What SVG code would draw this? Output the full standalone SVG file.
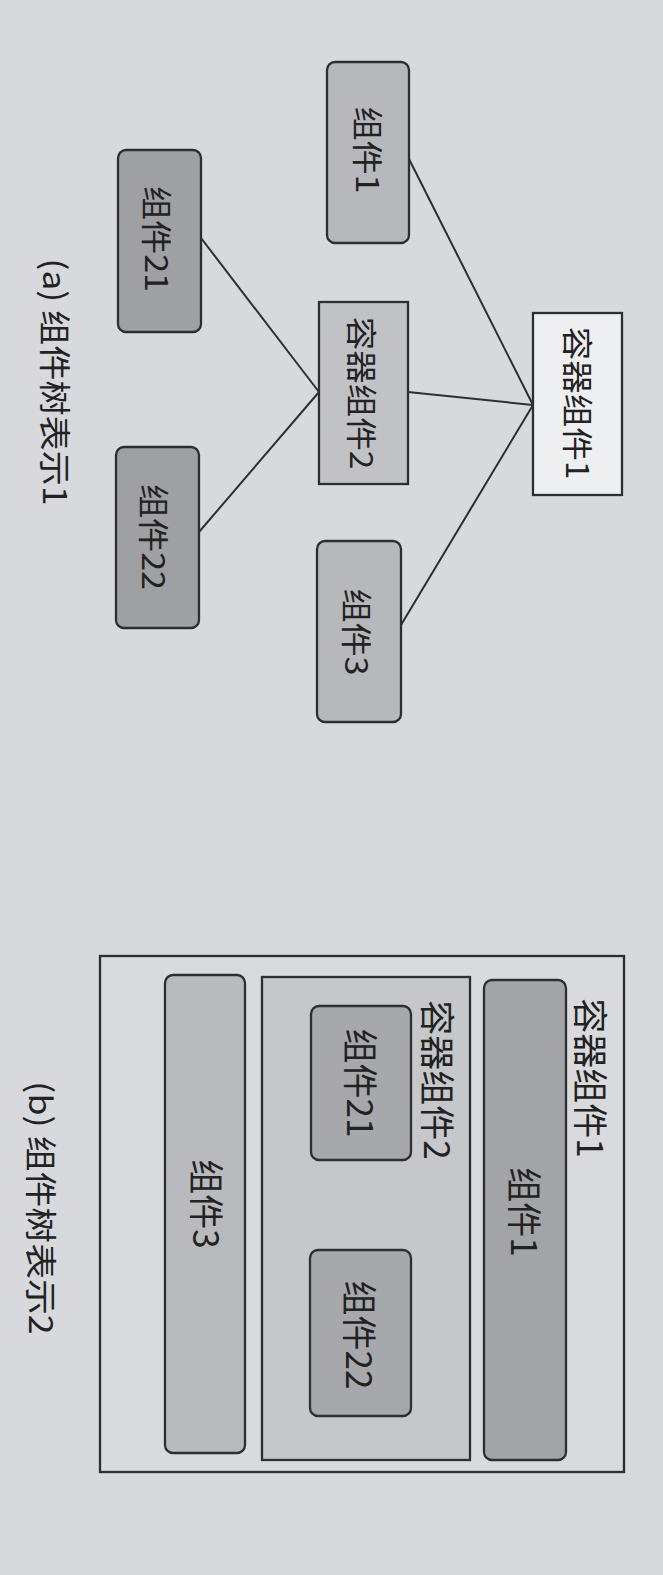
<svg xmlns="http://www.w3.org/2000/svg" width="663" height="1575" viewBox="0 0 663 1575">
<style>
.bx{stroke:#2e2e30;stroke-width:2.3}
.ln{stroke:#2e2e30;stroke-width:2;fill:none}
.t{font-family:"Noto Sans CJK SC","Noto Sans",sans-serif;fill:#222;text-anchor:middle;dominant-baseline:central}
.ta{font-size:31px}
.tb{font-size:35px}
.cap{font-size:32px}
</style>
<rect x="0" y="0" width="663" height="1575" fill="#d7d9dd"/>

<g id="connectors">
<line class="ln" x1="409" y1="159" x2="533" y2="405"/>
<line class="ln" x1="408" y1="392" x2="533" y2="405"/>
<line class="ln" x1="401" y1="625" x2="533" y2="405"/>
<line class="ln" x1="201" y1="238" x2="319" y2="392"/>
<line class="ln" x1="199" y1="532" x2="319" y2="392"/>
</g>

<g id="a-comp1">
<rect class="bx" x="327" y="62" width="82" height="181" rx="8" fill="#b7b8bc"/>
<text class="t ta" transform="translate(370,150) rotate(90) scale(1.1,1)">组件1</text>
</g>
<g id="a-container1">
<rect class="bx" x="533" y="313" width="89" height="182" fill="#eeeff1"/>
<text class="t ta" transform="translate(579,403) rotate(90) scale(1.08,1)">容器组件1</text>
</g>
<g id="a-container2">
<rect class="bx" x="319" y="302" width="89" height="182" fill="#c1c2c6"/>
<text class="t ta" transform="translate(363,393) rotate(90) scale(1.08,1)">容器组件2</text>
</g>
<g id="a-comp3">
<rect class="bx" x="317" y="541" width="84" height="181" rx="8" fill="#b7b8bc"/>
<text class="t ta" transform="translate(359,632) rotate(90) scale(1.1,1)">组件3</text>
</g>
<g id="a-comp21">
<rect class="bx" x="118" y="150" width="83" height="182" rx="8" fill="#9fa0a4"/>
<text class="t ta" transform="translate(159,239) rotate(90) scale(1.1,1)">组件21</text>
</g>
<g id="a-comp22">
<rect class="bx" x="116" y="447" width="83" height="181" rx="8" fill="#9fa0a4"/>
<text class="t ta" transform="translate(156,537) rotate(90) scale(1.1,1)">组件22</text>
</g>
<g id="caption-a">
<text class="t cap" transform="translate(57,382) rotate(90) scale(1.1,1)">(a) 组件树表示1</text>
</g>

<g id="b-container1">
<rect class="bx" x="100" y="956" width="524" height="516" fill="#d9dade"/>
<text class="t tb" transform="translate(592,1078) rotate(90)">容器组件1</text>
</g>
<g id="b-comp1">
<rect class="bx" x="484" y="980" width="82" height="480" rx="8" fill="#a3a4a8"/>
<text class="t tb" transform="translate(526,1212) rotate(90)">组件1</text>
</g>
<g id="b-container2">
<rect class="bx" x="262" y="977" width="208" height="483" fill="#c6c7cb"/>
<text class="t tb" transform="translate(439,1080) rotate(90)">容器组件2</text>
</g>
<g id="b-comp21">
<rect class="bx" x="311" y="1006" width="100" height="154" rx="8" fill="#a7a8ac"/>
<text class="t tb" transform="translate(362,1083) rotate(90)">组件21</text>
</g>
<g id="b-comp22">
<rect class="bx" x="310" y="1250" width="101" height="166" rx="8" fill="#a7a8ac"/>
<text class="t tb" transform="translate(361,1335) rotate(90)">组件22</text>
</g>
<g id="b-comp3">
<rect class="bx" x="165" y="975" width="80" height="478" rx="8" fill="#b9babe"/>
<text class="t tb" transform="translate(208,1204) rotate(90)">组件3</text>
</g>
<g id="caption-b">
<text class="t cap" transform="translate(43,1208) rotate(90) scale(1.12,1)">(b) 组件树表示2</text>
</g>
</svg>
